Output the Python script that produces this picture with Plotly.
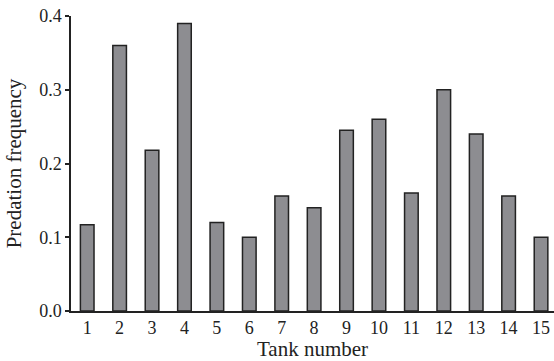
import plotly.graph_objects as go

tank_numbers = [1, 2, 3, 4, 5, 6, 7, 8, 9, 10, 11, 12, 13, 14, 15]
tank_labels = ["1", "2", "3", "4", "5", "6", "7", "8", "9", "10", "11", "12", "13", "14", "15"]
predation_frequency = [0.117, 0.36, 0.218, 0.39, 0.12, 0.10, 0.156, 0.14, 0.245, 0.26, 0.16, 0.30, 0.24, 0.156, 0.10]
y_tick_values = [0.0, 0.1, 0.2, 0.3, 0.4]
y_tick_labels = ["0.0", "0.1", "0.2", "0.3", "0.4"]

FONT = "Liberation Serif"

fig = go.Figure(
    go.Bar(
        x=tank_numbers,
        y=predation_frequency,
        width=0.42,
        marker=dict(color="#8d8d91", line=dict(color="#222222", width=1.5)),
    )
)

fig.update_layout(
    width=554,
    height=361,
    autosize=False,
    margin=dict(l=71, r=0, t=16, b=50),
    plot_bgcolor="white",
    paper_bgcolor="white",
    showlegend=False,
    font=dict(family=FONT, color="#222222", size=18),
)

fig.update_xaxes(
    range=[0.5, 15.4],
    tickmode="array",
    tickvals=tank_numbers,
    ticktext=tank_labels,
    ticks="",
    showgrid=False,
    zeroline=False,
    showline=True,
    linecolor="#222222",
    linewidth=1.5,
    tickfont=dict(family=FONT, size=18, color="#222222"),
    title=dict(text="Tank number", font=dict(family=FONT, size=21, color="#222222"), standoff=7),
    automargin=False,
)

fig.update_yaxes(
    range=[0, 0.4],
    tickmode="array",
    tickvals=y_tick_values,
    ticktext=y_tick_labels,
    ticks="outside",
    ticklen=4,
    tickwidth=1.5,
    tickcolor="#222222",
    showgrid=False,
    zeroline=False,
    showline=True,
    linecolor="#222222",
    linewidth=1.5,
    tickfont=dict(family=FONT, size=18, color="#222222"),
    title=dict(text="Predation frequency", font=dict(family=FONT, size=21, color="#222222"), standoff=12),
    automargin=False,
)

# remove the default 8px page margin so the figure fills the window exactly
fig.write_html(
    "out.html",
    config={"displayModeBar": False},
    post_script="document.body.style.margin='0';",
)
